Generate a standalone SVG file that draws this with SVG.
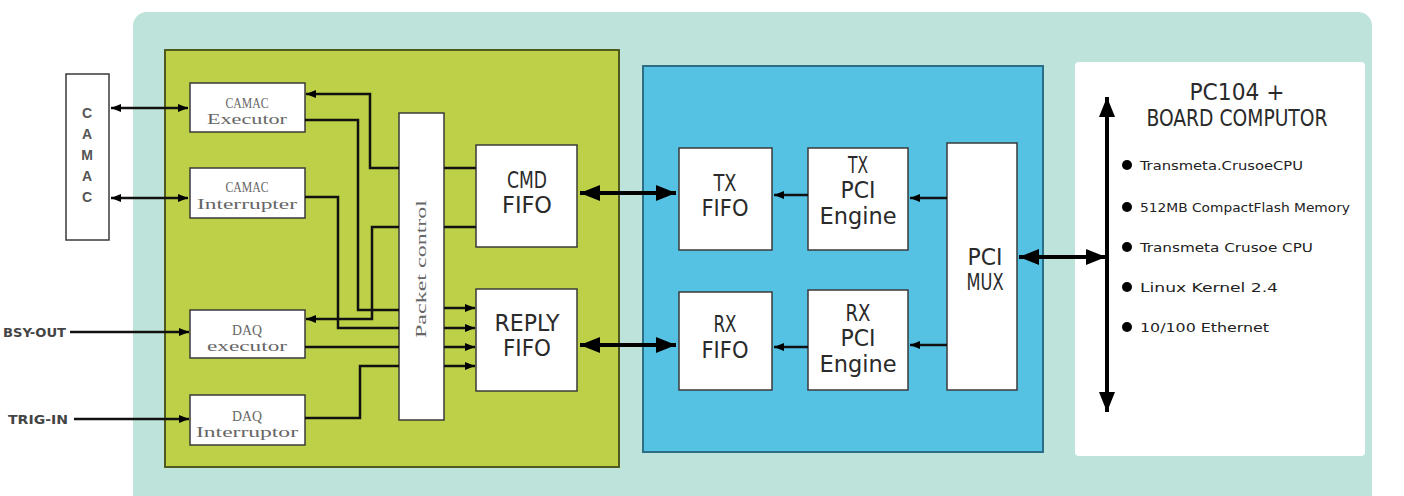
<svg xmlns="http://www.w3.org/2000/svg" width="1404" height="496" viewBox="0 0 1404 496">
<style>
.box{fill:#fff;stroke:#3a3a3a;stroke-width:1.5}
.w{fill:none;stroke:#111;stroke-width:2.5}
.thick{fill:none;stroke:#000;stroke-width:4}
.sl{font-family:"Liberation Serif",serif;font-size:14px;fill:#666;text-anchor:middle}
.bl{font-family:"Liberation Sans Narrow","DejaVu Sans Condensed","Liberation Sans",sans-serif;font-size:23px;fill:#2a2a2a;text-anchor:middle}
.pc{font-family:"Liberation Sans Narrow","DejaVu Sans Condensed","Liberation Sans",sans-serif;font-size:12px;fill:#222}
.io{font-family:"Liberation Sans Narrow","DejaVu Sans Condensed","Liberation Sans",sans-serif;font-size:13px;font-weight:bold;fill:#444}
.cm{font-family:"Liberation Sans",sans-serif;font-size:14px;font-weight:bold;fill:#555;text-anchor:middle}
</style>
<defs>
<marker id="ah" viewBox="0 0 10 8" refX="10" refY="4" markerWidth="10" markerHeight="8" markerUnits="userSpaceOnUse" orient="auto-start-reverse"><path d="M0,0 L10,4 L0,8 z" fill="#000"/></marker>
<marker id="big" viewBox="0 0 20 16" refX="20" refY="8" markerWidth="20" markerHeight="16" markerUnits="userSpaceOnUse" orient="auto-start-reverse"><path d="M0,0 L20,8 L0,16 z" fill="#000"/></marker>
</defs>
<rect x="0" y="0" width="1404" height="496" fill="#fff"/>
<g id="panels">
<rect x="133" y="12" width="1239" height="500" rx="14" fill="#bee3da"/>
<rect x="165" y="50" width="454" height="417" fill="#bdd047" stroke="#4f5a1f" stroke-width="2"/>
<rect x="643" y="66" width="400" height="386" fill="#55c2e4" stroke="#2b6e85" stroke-width="2"/>
<rect x="1075" y="62" width="290" height="394" rx="4" fill="#fff"/>
</g>
<g id="camac">
<rect class="box" x="66" y="74" width="43" height="166"/>
<text class="cm" x="87" y="118">C</text>
<text class="cm" x="87" y="139">A</text>
<text class="cm" x="87" y="160">M</text>
<text class="cm" x="87" y="181">A</text>
<text class="cm" x="87" y="202">C</text>
</g>
<g id="camac-executor">
<rect class="box" x="190" y="83" width="115" height="49"/>
<text class="sl" x="247" y="108" textLength="43" lengthAdjust="spacingAndGlyphs">CAMAC</text>
<text class="sl" x="247" y="124" textLength="80" lengthAdjust="spacingAndGlyphs">Executor</text>
</g>
<g id="camac-interrupter">
<rect class="box" x="190" y="168" width="115" height="50"/>
<text class="sl" x="247" y="192" textLength="43" lengthAdjust="spacingAndGlyphs">CAMAC</text>
<text class="sl" x="247" y="209" textLength="100" lengthAdjust="spacingAndGlyphs">Interrupter</text>
</g>
<g id="daq-executor">
<rect class="box" x="190" y="310" width="115" height="48"/>
<text class="sl" x="247" y="335" textLength="30" lengthAdjust="spacingAndGlyphs">DAQ</text>
<text class="sl" x="247" y="351" textLength="80" lengthAdjust="spacingAndGlyphs">executor</text>
</g>
<g id="daq-interruptor">
<rect class="box" x="190" y="395" width="115" height="50"/>
<text class="sl" x="247" y="421" textLength="30" lengthAdjust="spacingAndGlyphs">DAQ</text>
<text class="sl" x="247" y="437" textLength="102" lengthAdjust="spacingAndGlyphs">Interruptor</text>
</g>
<g id="bsy-out"><text class="io" x="3" y="337" textLength="63" lengthAdjust="spacingAndGlyphs">BSY-OUT</text></g>
<g id="trig-in"><text class="io" x="8" y="424" textLength="60" lengthAdjust="spacingAndGlyphs">TRIG-IN</text></g>
<g id="packet-control">
<rect class="box" x="399" y="113" width="45" height="307"/>
<text class="sl" transform="translate(426,269) rotate(-90)" x="0" y="0" textLength="138" lengthAdjust="spacingAndGlyphs">Packet control</text>
</g>
<g id="cmd-fifo">
<rect class="box" x="476" y="145" width="101" height="102"/>
<text class="bl" x="527" y="188" textLength="40" lengthAdjust="spacingAndGlyphs">CMD</text>
<text class="bl" x="527" y="213" textLength="50" lengthAdjust="spacingAndGlyphs">FIFO</text>
</g>
<g id="reply-fifo">
<rect class="box" x="476" y="289" width="101" height="102"/>
<text class="bl" x="527" y="331" textLength="65" lengthAdjust="spacingAndGlyphs">REPLY</text>
<text class="bl" x="527" y="356" textLength="48" lengthAdjust="spacingAndGlyphs">FIFO</text>
</g>
<g id="tx-fifo">
<rect class="box" x="679" y="148" width="93" height="102"/>
<text class="bl" x="725" y="191" textLength="23" lengthAdjust="spacingAndGlyphs">TX</text>
<text class="bl" x="725" y="216" textLength="47" lengthAdjust="spacingAndGlyphs">FIFO</text>
</g>
<g id="tx-pci-engine">
<rect class="box" x="808" y="148" width="100" height="102"/>
<text class="bl" x="858" y="173" textLength="20" lengthAdjust="spacingAndGlyphs">TX</text>
<text class="bl" x="858" y="198" textLength="35" lengthAdjust="spacingAndGlyphs">PCI</text>
<text class="bl" x="858" y="224" textLength="77" lengthAdjust="spacingAndGlyphs">Engine</text>
</g>
<g id="rx-fifo">
<rect class="box" x="679" y="292" width="93" height="98"/>
<text class="bl" x="725" y="332" textLength="23" lengthAdjust="spacingAndGlyphs">RX</text>
<text class="bl" x="725" y="358" textLength="47" lengthAdjust="spacingAndGlyphs">FIFO</text>
</g>
<g id="rx-pci-engine">
<rect class="box" x="808" y="290" width="100" height="100"/>
<text class="bl" x="858" y="321" textLength="25" lengthAdjust="spacingAndGlyphs">RX</text>
<text class="bl" x="858" y="346" textLength="35" lengthAdjust="spacingAndGlyphs">PCI</text>
<text class="bl" x="858" y="372" textLength="77" lengthAdjust="spacingAndGlyphs">Engine</text>
</g>
<g id="pci-mux">
<rect class="box" x="947" y="143" width="70" height="247"/>
<text class="bl" x="985" y="265" textLength="35" lengthAdjust="spacingAndGlyphs">PCI</text>
<text class="bl" x="985" y="290" textLength="37" lengthAdjust="spacingAndGlyphs">MUX</text>
</g>
<g id="pc104">
<text class="bl" x="1237" y="100" textLength="95" lengthAdjust="spacingAndGlyphs">PC104 +</text>
<text class="bl" x="1237" y="126" textLength="181" lengthAdjust="spacingAndGlyphs">BOARD COMPUTOR</text>
<circle cx="1127" cy="165" r="5"/>
<circle cx="1127" cy="207" r="5"/>
<circle cx="1127" cy="247" r="5"/>
<circle cx="1127" cy="287" r="5"/>
<circle cx="1127" cy="327" r="5"/>
<text class="pc" x="1140" y="170" textLength="163" lengthAdjust="spacingAndGlyphs">Transmeta.CrusoeCPU</text>
<text class="pc" x="1140" y="212" textLength="210" lengthAdjust="spacingAndGlyphs">512MB CompactFlash Memory</text>
<text class="pc" x="1140" y="252" textLength="173" lengthAdjust="spacingAndGlyphs">Transmeta Crusoe CPU</text>
<text class="pc" x="1140" y="292" textLength="138" lengthAdjust="spacingAndGlyphs">Linux Kernel 2.4</text>
<text class="pc" x="1140" y="332" textLength="129" lengthAdjust="spacingAndGlyphs">10/100 Ethernet</text>
</g>
<g id="connectors">
<path class="w" d="M111,108 H188" marker-start="url(#ah)" marker-end="url(#ah)"/>
<path class="w" d="M111,198 H188" marker-start="url(#ah)" marker-end="url(#ah)"/>
<path class="w" d="M70,332 H189" marker-end="url(#ah)"/>
<path class="w" d="M74,419 H189" marker-end="url(#ah)"/>
<path class="w" d="M399,168 H370 V94 H306" marker-end="url(#ah)"/>
<path class="w" d="M305,120 H358 V310 H399"/>
<path class="w" d="M305,197 H338 V328 H399"/>
<path class="w" d="M399,227 H372 V319 H306" marker-end="url(#ah)"/>
<path class="w" d="M305,347 H399"/>
<path class="w" d="M305,418 H360 V366 H399"/>
<path class="w" d="M444,168 H476 M444,227 H476"/>
<path class="w" d="M444,308 H475" marker-end="url(#ah)"/>
<path class="w" d="M444,328 H475" marker-end="url(#ah)"/>
<path class="w" d="M444,347 H475" marker-end="url(#ah)"/>
<path class="w" d="M444,366 H475" marker-end="url(#ah)"/>
<path class="thick" d="M580,193 H676" marker-start="url(#big)" marker-end="url(#big)"/>
<path class="thick" d="M580,345 H676" marker-start="url(#big)" marker-end="url(#big)"/>
<path class="w" d="M808,195 H774" marker-end="url(#ah)"/>
<path class="w" d="M947,198 H910" marker-end="url(#ah)"/>
<path class="w" d="M808,347 H774" marker-end="url(#ah)"/>
<path class="w" d="M947,345 H910" marker-end="url(#ah)"/>
<path class="thick" d="M1019,257 H1106" marker-start="url(#big)" marker-end="url(#big)"/>
<path class="thick" d="M1107,97 V412" marker-start="url(#big)" marker-end="url(#big)"/>
</g>
</svg>
